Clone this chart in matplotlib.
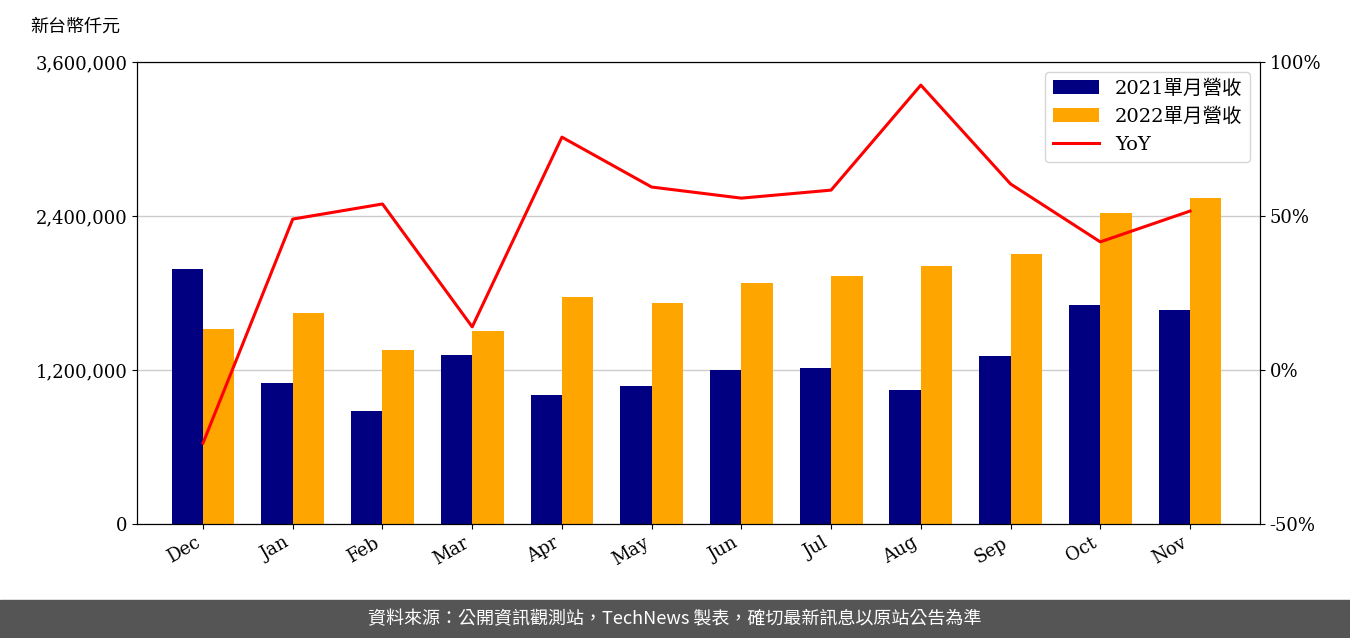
import matplotlib.pyplot as plt
import numpy as np

months = ['Dec', 'Jan', 'Feb', 'Mar', 'Apr', 'May', 'Jun', 'Jul', 'Aug', 'Sep', 'Oct', 'Nov']
rev_2021 = [1987000, 1099000, 880000, 1317000, 1005000, 1075000, 1200000, 1216000, 1044000, 1309000, 1706000, 1668000]
rev_2022 = [1519000, 1644000, 1356000, 1504000, 1769000, 1722000, 1878000, 1932000, 2010000, 2104000, 2423000, 2540000]
yoy = [-23.7, 49.0, 53.9, 14.0, 75.6, 59.4, 55.8, 58.4, 92.5, 60.4, 41.6, 51.6]

fams = ['DejaVu Serif', 'Noto Sans CJK TC']
plt.rcParams['font.family'] = fams
plt.rcParams['font.size'] = 13

fig = plt.figure(figsize=(13.5, 6.38), dpi=100)
ax = fig.add_axes([137/1350, 1-524/638, (1260-137)/1350, (524-62)/638])
x = np.arange(len(months))
w = 0.35
b1 = ax.bar(x - w/2, rev_2021, w, color='#000080', label='2021單月營收')
b2 = ax.bar(x + w/2, rev_2022, w, color='#FFA500', label='2022單月營收')
ax.set_ylim(0, 3600000)
ax.set_yticks([0, 1200000, 2400000, 3600000])
ax.set_yticklabels(['0', '1,200,000', '2,400,000', '3,600,000'])
ax.yaxis.grid(True, color='#cccccc', linewidth=1)
ax.set_axisbelow(True)
ax.set_xlim(-0.736, 11.78)
ax.set_xticks(x)
ax.set_xticklabels(months, rotation=30, ha='right')

ax2 = ax.twinx()
l, = ax2.plot(x, yoy, color='red', linewidth=2.2, label='YoY')
ax2.set_ylim(-50, 100)
ax2.set_yticks([-50, 0, 50, 100])
ax2.set_yticklabels(['-50%', '0%', '50%', '100%'])

ax2.legend([b1, b2, l], ['2021單月營收', '2022單月營收', 'YoY'], loc='upper right',
           prop={'family': fams, 'size': 14}, handlelength=2.4)

fig.text(30/1350, 1-27/638, '新台幣仟元', fontsize=13, va='center', family=fams)
fig.patches.append(plt.Rectangle((0, 0), 1, 38/638, transform=fig.transFigure,
                                 color='#555555', zorder=0))
fig.text(0.5, 19/638, '資料來源：公開資訊觀測站，TechNews 製表，確切最新訊息以原站公告為準',
         color='white', ha='center', va='center', fontsize=13,
         family=['Noto Sans CJK TC', 'DejaVu Sans'])
fig.savefig('out.png')
